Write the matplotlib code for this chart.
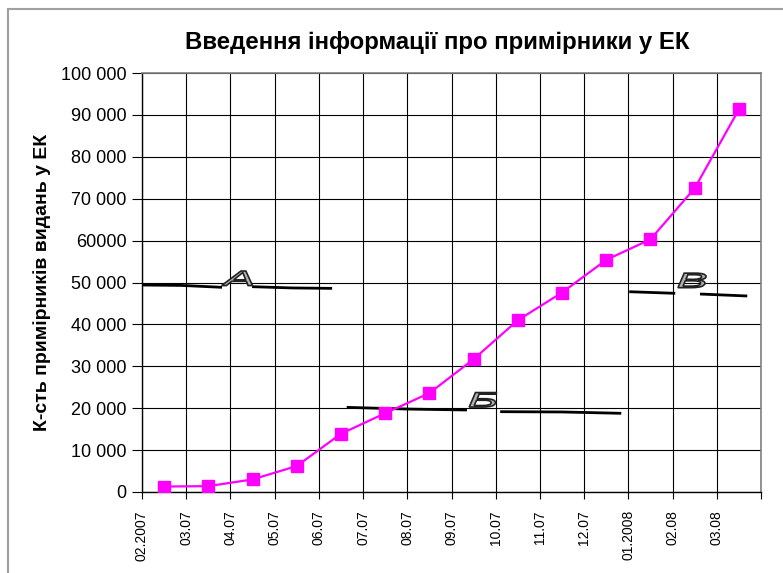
import matplotlib
matplotlib.use("Agg")
import matplotlib.pyplot as plt
import matplotlib.transforms as mtransforms
from matplotlib.patches import Rectangle, PathPatch
from matplotlib.textpath import TextPath
from matplotlib.font_manager import FontProperties

plt.rcParams['font.family'] = ['Liberation Sans', 'DejaVu Sans']

# categories (month labels) and values
months = ["02.2007", "03.07", "04.07", "05.07", "06.07", "07.07", "08.07",
          "09.07", "10.07", "11.07", "12.07", "01.2008", "02.08", "03.08"]
copies = [1300, 1400, 3000, 6200, 13900, 18800, 23600,
          31700, 41000, 47600, 55400, 60300, 72500, 91300]
y_ticks = [0, 10000, 20000, 30000, 40000, 50000, 60000, 70000, 80000, 90000, 100000]
y_labels = ["0", "10 000", "20 000", "30 000", "40 000", "50 000", "60000",
            "70 000", "80 000", "90 000", "100 000"]

# hand drawn marker lines with letters (category units, values)
mark_a_left = ([0.0, 0.9, 1.81], [49400, 49300, 48850])
mark_a_right = ([2.49, 3.4, 4.30], [49000, 48700, 48600])
mark_b_left = ([4.63, 6.0, 7.35], [20200, 19800, 19570])
mark_b_right = ([8.10, 9.5, 10.84], [19170, 19100, 18780])
mark_v_left = ([11.02, 12.06], [47800, 47420])
mark_v_right = ([12.62, 13.69], [47250, 46780])
letters = ["А", "Б", "В"]
letter_pos = [(2.15, 51000), (7.71, 22000), (12.44, 50500)]

fig = plt.figure(figsize=(7.83, 5.73), dpi=100)
ax = fig.add_axes([142/783, 1 - 492/573, (761 - 142)/783, (492 - 73)/573])

x = [i + 0.5 for i in range(len(copies))]
ax.plot(x, copies, color="#FF00FF", lw=1.6, marker="s", markersize=8.5,
        markerfacecolor="#FF00FF", markeredgecolor="#FF00FF", zorder=5)

for seg in [mark_a_left, mark_a_right, mark_b_left, mark_b_right, mark_v_left, mark_v_right]:
    ax.plot(seg[0], seg[1], color="black", lw=2.0, solid_capstyle="butt", zorder=4)

# WordArt-like letters: stretched wide, grey fill with dark outline
fp = FontProperties(family="Liberation Sans", style="italic")
for let, (lx, ly) in zip(letters, letter_pos):
    tp = TextPath((0, 0), let, size=16, prop=fp)
    ext = tp.get_extents()
    cx = (ext.x0 + ext.x1) / 2
    cy = (ext.y0 + ext.y1) / 2
    tr = (mtransforms.Affine2D().translate(-cx, -cy).scale(2.1 / 72, 0.95 / 72)
          + fig.dpi_scale_trans
          + mtransforms.ScaledTranslation(lx, ly, ax.transData))
    ax.add_patch(PathPatch(tp, transform=tr, facecolor="#b4b4b4",
                           edgecolor="#222222", lw=1.2, zorder=6, clip_on=False))

ax.set_xlim(0, 14)
ax.set_ylim(0, 100000)
ax.set_xticks(range(15))
ax.set_xticklabels(months + [""], rotation=90, fontsize=10)
ax.set_yticks(y_ticks)
ax.set_yticklabels(y_labels, fontsize=13)
ax.tick_params(axis="x", direction="out", length=5, width=0.8, pad=8)
ax.tick_params(axis="y", direction="out", length=7, width=0.8, pad=4)
ax.grid(True, color="black", lw=0.8)
ax.set_axisbelow(True)
for s in ["top", "right"]:
    ax.spines[s].set_color("#808080")
    ax.spines[s].set_linewidth(1.2)
for s in ["left", "bottom"]:
    ax.spines[s].set_linewidth(1.0)

ax.set_ylabel("К-сть примірників видань у ЕК", fontsize=14, fontweight="bold", labelpad=7)
fig.text(437/783, 1 - 43/573, "Введення інформації про примірники у ЕК",
         fontsize=17.3, fontweight="bold", ha="center", va="center")

fig.add_artist(Rectangle((8/783, -0.1), 1.1, 1.1 - 9/573, transform=fig.transFigure,
                         fill=False, ec="#a0a0a0", lw=1.5))

fig.savefig("out.png", dpi=100)
